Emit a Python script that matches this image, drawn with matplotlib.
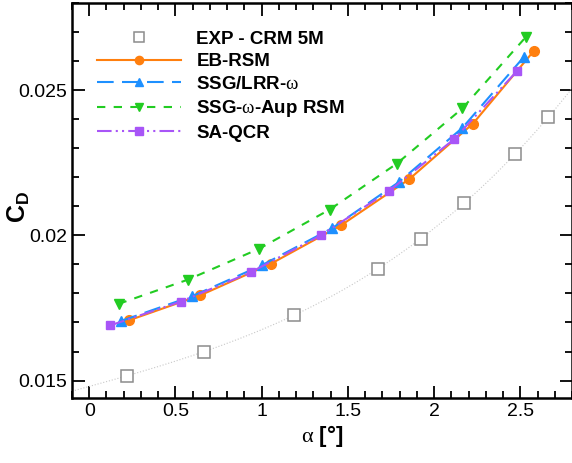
import matplotlib
matplotlib.use("Agg")
import matplotlib.pyplot as plt
import numpy as np
from matplotlib.ticker import MultipleLocator

plt.rcParams['font.family'] = ['Liberation Sans', 'DejaVu Sans']
plt.rcParams['mathtext.fontset'] = 'custom'
plt.rcParams['mathtext.rm'] = 'Liberation Serif'
plt.rcParams['mathtext.bf'] = 'Liberation Sans:bold'

# experiment
exp_a = [0.218, 0.668, 1.188, 1.675, 1.923, 2.174, 2.470, 2.663]
exp_cd = [0.01517, 0.01598, 0.01727, 0.01885, 0.01989, 0.02110, 0.02279, 0.02408]

# EB-RSM
eb_a = [0.228, 0.642, 1.053, 1.459, 1.855, 2.226, 2.580]
eb_cd = [0.01707, 0.01793, 0.01902, 0.02034, 0.02193, 0.02385, 0.02636]

# SSG/LRR-omega
ssg_a = [0.184, 0.595, 1.001, 1.410, 1.797, 2.164, 2.522]
ssg_cd = [0.01705, 0.01790, 0.01897, 0.02025, 0.02184, 0.02370, 0.02615]

# SSG-omega-Aup RSM
aup_a = [0.170, 0.570, 0.986, 1.395, 1.784, 2.164, 2.531]
aup_cd = [0.01764, 0.01847, 0.01954, 0.02089, 0.02247, 0.02437, 0.02682]

# SA-QCR
qcr_a = [0.122, 0.531, 0.937, 1.343, 1.739, 2.116, 2.483]
qcr_cd = [0.01690, 0.01772, 0.01873, 0.02000, 0.02153, 0.02331, 0.02567]

f = plt.figure(figsize=(5.72, 4.63), dpi=100)
ax = f.add_axes([72/572, 1-398/463, 500/572, 395/463])

# trend line through the experiment
coef = np.polyfit(exp_a, exp_cd, 3)
a_fit = np.linspace(-0.1, 2.8, 200)
ax.plot(a_fit, np.polyval(coef, a_fit), color='#c8c8c8', lw=0.8, ls=':')

ax.plot(exp_a, exp_cd, ls='none', marker='s', ms=8, mfc='white', mec='#8c8c8c',
        mew=1.1, label='EXP - CRM 5M')
ax.plot(eb_a, eb_cd, color='#ff7f0e', lw=1.5, marker='o', ms=7, label='EB-RSM')
ax.plot(ssg_a, ssg_cd, color='#1e90ff', lw=1.5, ls=(0, (8, 4)), marker='^', ms=7,
        label=r'SSG/LRR-$\mathrm{\omega}$')
ax.plot(aup_a, aup_cd, color='#22cc22', lw=1.5, ls=(0, (4, 4)), marker='v', ms=7,
        label=r'SSG-$\mathrm{\omega}$-Aup RSM')
ax.plot(qcr_a, qcr_cd, color='#a855f7', lw=1.5, ls=(0, (7, 2, 1, 2, 1, 2)), marker='s', ms=6,
        label='SA-QCR')

ax.set_xlim(-0.1, 2.8)
ax.set_ylim(0.0144, 0.028)
ax.xaxis.set_major_locator(MultipleLocator(0.5))
ax.xaxis.set_minor_locator(MultipleLocator(0.1))
ax.yaxis.set_major_locator(MultipleLocator(0.005))
ax.yaxis.set_minor_locator(MultipleLocator(0.001))
ax.set_xticks([0, 0.5, 1, 1.5, 2, 2.5])
ax.set_xticklabels(['0', '0.5', '1', '1.5', '2', '2.5'])
ax.set_yticks([0.015, 0.02, 0.025])
ax.set_yticklabels(['0.015', '0.02', '0.025'])
ax.tick_params(which='both', direction='in', top=True, right=True, labelsize=14, width=1.3)
ax.tick_params(which='major', length=9)
ax.tick_params(which='minor', length=5)
for s in ax.spines.values():
    s.set_linewidth(1.8)

ax.set_xlabel(r'$\mathrm{\alpha}$ [°]', fontsize=16, fontweight='bold', labelpad=2)
ax.set_ylabel(r'$\mathbf{C_D}$', fontsize=18)
ax.yaxis.set_label_coords(-0.08, 0.485)

leg = ax.legend(loc='upper left', frameon=False, prop={'weight': 'bold', 'size': 13.5},
                handlelength=4.5, handletextpad=0.8, labelspacing=0.29, markerscale=0.85,
                bbox_to_anchor=(0.035, 0.949), borderaxespad=0)

f.savefig("out.png", dpi=100)
